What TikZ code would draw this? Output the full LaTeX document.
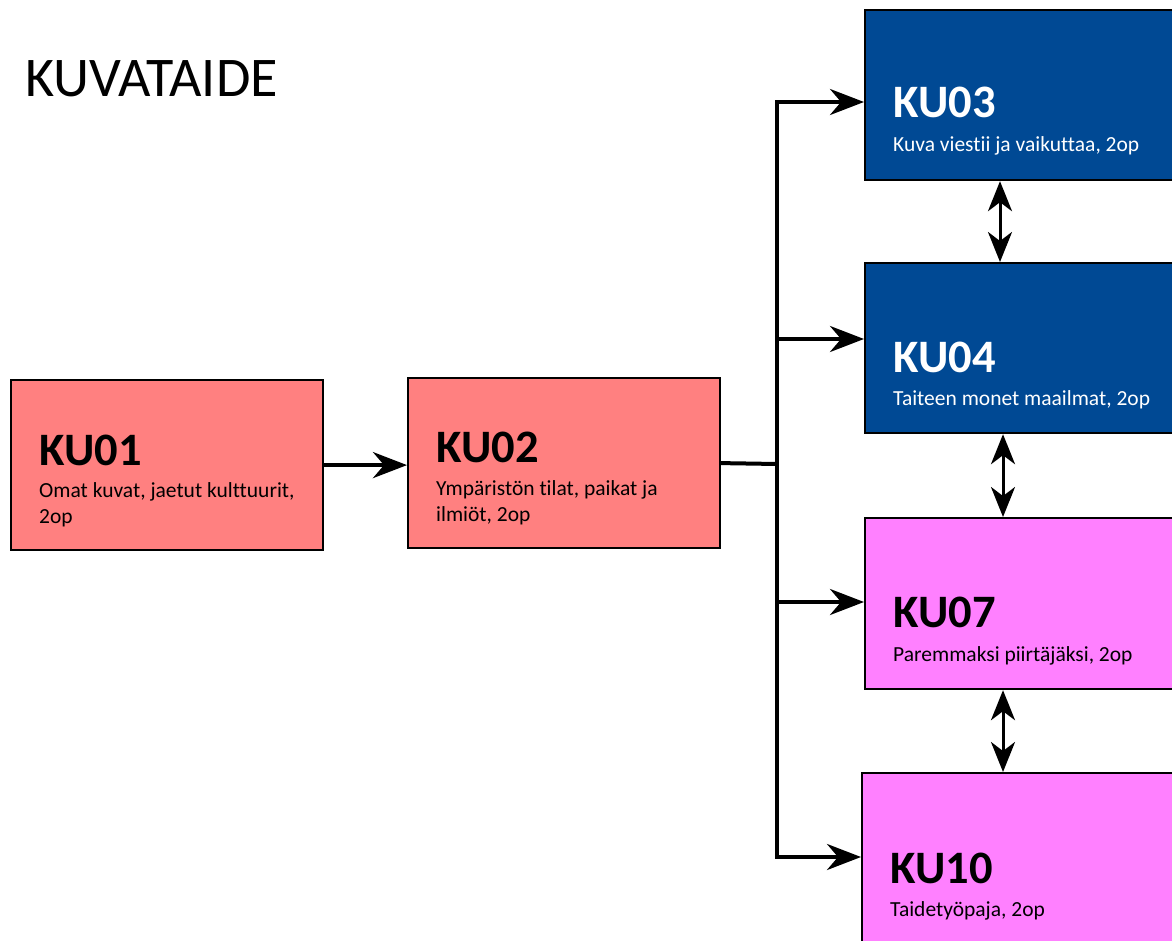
\documentclass[tikz,border=0pt]{standalone}
\usepackage{fontspec}
\setmainfont{Carlito}[Ligatures=CommonOff]
\usetikzlibrary{arrows.meta}
\definecolor{salmon}{RGB}{255,128,128}
\definecolor{kublue}{RGB}{0,73,148}
\definecolor{kupink}{RGB}{255,128,255}
\begin{document}
\begin{tikzpicture}[x=1pt,y=-1pt,
  box/.style={draw=black,line width=2.2pt,anchor=north west,inner sep=0pt},
  code/.style={anchor=base west,inner sep=0pt,font=\fontsize{46.5}{50}\selectfont\bfseries},
  sub/.style={anchor=base west,inner sep=0pt,font=\fontsize{21.5}{25}\selectfont},
  conn/.style={line width=4pt,line join=miter},
  arr/.style={conn,-{Stealth[length=34pt,width=26pt,inset=11pt]}},
  darr/.style={line width=3pt,{Stealth[length=30pt,width=24pt,inset=9pt]}-{Stealth[length=30pt,width=24pt,inset=9pt]}}]
\useasboundingbox (0,0) rectangle (1172,941);
\fill[white] (0,0) rectangle (1172,941);

\node[anchor=base west,inner sep=0pt,font=\fontsize{56}{60}\selectfont] (title) at (25,97) {KUVATAIDE};

% boxes
\node[box,fill=salmon,minimum width=312pt,minimum height=170pt] (ku01) at (10,379) {};
\node[box,fill=salmon,minimum width=312pt,minimum height=170pt] (ku02) at (407,377) {};
\node[box,fill=kublue,minimum width=320pt,minimum height=170pt] (ku03) at (864,9) {};
\node[box,fill=kublue,minimum width=320pt,minimum height=170pt] (ku04) at (864,262) {};
\node[box,fill=kupink,minimum width=320pt,minimum height=171pt] (ku07) at (864,517) {};
\node[box,fill=kupink,minimum width=320pt,minimum height=180pt] (ku10) at (861,772) {};

% texts
\node[code] (t01) at (39,465) {KU01};
\node[sub] (s01a) at (39,497) {Omat kuvat, jaetut kulttuurit,};
\node[sub] (s01b) at (39,523) {2op};
\node[code] (t02) at (436,462) {KU02};
\node[sub] (s02a) at (436,495) {Ympäristön tilat, paikat ja};
\node[sub] (s02b) at (436,521) {ilmiöt, 2op};
\node[code,text=white] (t03) at (893,118) {KU03};
\node[sub,text=white] (s03) at (893,152) {Kuva viestii ja vaikuttaa, 2op};
\node[code,text=white] (t04) at (893,372) {KU04};
\node[sub,text=white] (s04) at (893,405) {Taiteen monet maailmat, 2op};
\node[code] (t07) at (893,627) {KU07};
\node[sub] (s07) at (893,661) {Paremmaksi piirtäjäksi, 2op};
\node[code] (t10) at (890,883) {KU10};
\node[sub] (s10) at (890,916) {Taidetyöpaja, 2op};

% connectors
\coordinate (j3) at (777,102);
\coordinate (j4) at (777,339);
\coordinate (j2) at (777,464);
\coordinate (j7) at (777,602);
\coordinate (j10) at (777,857);
\coordinate (c1) at (1000,0);
\coordinate (c2) at (1003,0);

\draw[arr] (ku01.east) -- (ku02.west |- ku01.east);
\draw[conn] (ku02.east) -- (j2);
\draw[arr] (j10) -- (j3) -- (ku03.west |- j3);
\draw[arr] (j3) -- (j10) -- (ku10.west |- j10);
\draw[arr] (j4) -- (ku04.west |- j4);
\draw[arr] (j7) -- (ku07.west |- j7);

\draw[darr] (ku03.south -| c1) -- (ku04.north -| c1);
\draw[darr] (ku04.south -| c2) -- (ku07.north -| c2);
\draw[darr] (ku07.south -| c2) -- (ku10.north -| c2);
\end{tikzpicture}
\end{document}
